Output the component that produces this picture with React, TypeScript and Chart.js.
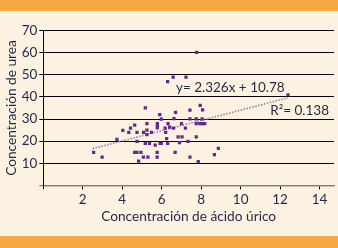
import React, { useEffect, useRef } from "react";
import { Chart, registerables } from "chart.js";

Chart.register(...registerables);

// ---- data ----
const acidoUrico = [
  2.55, 2.98, 3.73, 4.03, 4.33, 4.42, 4.63, 4.63, 4.75, 4.75, 4.75, 4.83, 4.95,
  5.08, 5.07, 5.17, 5.17, 5.25, 5.25, 5.25, 5.3, 5.38, 5.48, 5.67, 5.77, 5.77,
  5.78, 5.78, 5.78, 5.9, 5.92, 5.98, 5.98, 6.17, 6.2, 6.25, 6.3, 6.3, 6.32, 6.4,
  6.58, 6.6, 6.62, 6.68, 6.7, 6.83, 6.9, 7.0, 7.03, 7.2, 7.23, 7.33, 7.43, 7.43,
  7.43, 7.75, 7.75, 7.75, 7.77, 7.85, 7.93, 7.95, 8.05, 8.07, 8.07, 8.18, 8.67,
  8.87, 12.4,
];
const urea = [
  14.9, 12.8, 20.8, 24.9, 24.0, 25.9, 27.2, 14.9, 14.9, 24.0, 19.9, 10.9, 14.9,
  24.0, 12.8, 35.1, 19.0, 27.9, 25.0, 22.9, 12.8, 19.0, 24.0, 18.2, 14.9, 12.8,
  27.9, 27.0, 26.0, 32.0, 19.0, 30.0, 19.0, 25.9, 24.0, 21.1, 19.0, 46.9, 27.9,
  26.3, 49.0, 25.9, 30.2, 14.9, 33.0, 21.9, 19.3, 27.9, 21.9, 25.9, 49.0, 19.9,
  34.0, 30.1, 12.8, 30.1, 27.9, 21.9, 60.2, 10.7, 27.9, 36.2, 30.1, 34.2, 27.9,
  27.9, 13.9, 16.7, 40.9,
];
const trendX = [2.5, 12.4];
const trendY = [16.6, 39.6];
const xTickValues = [0, 2, 4, 6, 8, 10, 12, 14];
const yTickValues = [0, 10, 20, 30, 40, 50, 60, 70];
const equationText = "y= 2.326x + 10.78";
const r2Text = "R²= 0.138";
const xTitle = "Concentración de ácido úrico";
const yTitle = "Concentración de urea";

// ---- styles ----
const W = 338;
const H = 248;
const CREAM = "#FDF1E1";
const ORANGE = "#F4A742";
const TEXT = "#1E2946";
const POINT = "#62298A";
const TREND = "#8E82A2";
const FONT = "Lato";

const equationPos = { x: 6.72, y: 44.0 };
const r2Pos = { x: 11.5, y: 33.6 };

const annotations = {
  id: "annotations",
  afterDatasetsDraw(chart: any) {
    const { ctx, scales } = chart;
    const xs = scales.x;
    const ys = scales.y;
    ctx.save();
    ctx.font = `13.5px ${FONT}`;
    ctx.fillStyle = TEXT;
    ctx.textAlign = "left";
    ctx.textBaseline = "middle";
    ctx.fillText(equationText, xs.getPixelForValue(equationPos.x), ys.getPixelForValue(equationPos.y));
    ctx.fillText(r2Text, xs.getPixelForValue(r2Pos.x), ys.getPixelForValue(r2Pos.y));
    ctx.restore();
  },
};

export default function App() {
  const ref = useRef<HTMLCanvasElement | null>(null);

  useEffect(() => {
    document.body.style.margin = "0";
    if (!ref.current) return;
    const chart = new Chart(ref.current, {
      type: "scatter",
      data: {
        datasets: [
          {
            type: "scatter",
            data: acidoUrico.map((v, i) => ({ x: v, y: urea[i] })),
            backgroundColor: POINT,
            borderWidth: 0,
            pointStyle: "rect",
            pointRadius: 2.3,
            order: 0,
          },
          {
            type: "line",
            data: trendX.map((v, i) => ({ x: v, y: trendY[i] })),
            borderColor: TREND,
            borderWidth: 1.6,
            borderDash: [1.5, 1.5],
            pointRadius: 0,
            fill: false,
            order: 1,
          } as any,
        ],
      },
      options: {
        responsive: false,
        animation: false,
        events: [],
        layout: { padding: { left: 3.5, top: 30.7, right: 0, bottom: 22.9 } },
        plugins: { legend: { display: false }, tooltip: { enabled: false } },
        scales: {
          x: {
            type: "linear",
            min: 0,
            max: 14.73,
            afterFit: (s: any) => {
              s.height = 39.8;
            },
            afterBuildTicks: (s: any) => {
              s.ticks = xTickValues.map((v) => ({ value: v }));
            },
            ticks: {
              color: TEXT,
              font: { family: FONT, size: 13.5 },
              padding: 2,
              maxRotation: 0,
              callback: (v: any) => (v === 0 ? "" : String(v)),
            },
            grid: {
              drawOnChartArea: false,
              drawTicks: true,
              tickLength: 4,
              color: "#000",
            },
            border: { display: true, color: "#7d7d7d", width: 1.3 },
            title: {
              display: true,
              text: xTitle,
              color: TEXT,
              font: { family: FONT, size: 13.7 },
              padding: { top: 0, bottom: 0 },
            },
          },
          y: {
            type: "linear",
            min: 0,
            max: 70,
            afterFit: (s: any) => {
              s.width = 39.8;
            },
            afterBuildTicks: (s: any) => {
              s.ticks = yTickValues.map((v) => ({ value: v }));
            },
            ticks: {
              color: TEXT,
              font: { family: FONT, size: 13.5 },
              padding: 2,
              callback: (v: any) => (v === 0 ? "" : String(v)),
            },
            grid: {
              color: (c: any) => (c.tick && c.tick.value === 0 ? "#7d7d7d" : "#000"),
              lineWidth: (c: any) => (c.tick && c.tick.value === 0 ? 1.3 : 1),
              tickLength: 4,
            },
            border: { display: true, color: "#000", width: 1 },
            title: {
              display: true,
              text: yTitle,
              color: TEXT,
              font: { family: FONT, size: 13.7 },
              padding: { top: 0, bottom: 0 },
            },
          },
        },
      },
      plugins: [annotations],
    });
    return () => chart.destroy();
  }, []);

  return (
    <div style={{ position: "fixed", left: 0, top: 0, width: W, height: H, background: CREAM, overflow: "hidden" }}>
      <div style={{ position: "absolute", left: 0, top: 0, width: W, height: 11, background: ORANGE }} />
      <div style={{ position: "absolute", left: 0, top: 236, width: W, height: H - 236, background: ORANGE }} />
      <canvas ref={ref} width={W} height={H} style={{ position: "absolute", left: 0, top: 0, display: "block" }} />
    </div>
  );
}
